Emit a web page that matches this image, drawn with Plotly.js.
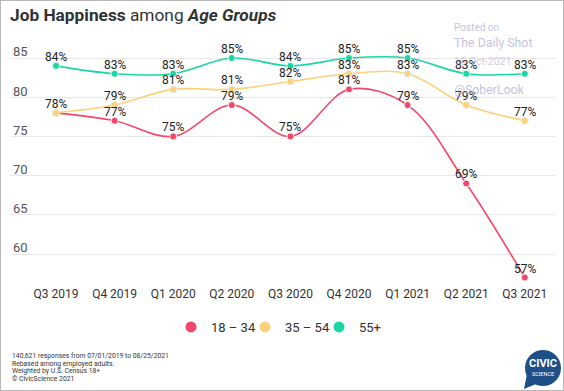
<!DOCTYPE html>
<html>
<head>
<meta charset="utf-8">
<script src="https://cdn.plot.ly/plotly-3.0.1.min.js"></script>
<style>
  html, body { margin: 0; padding: 0; background: #fff; }
  #wrap { position: relative; width: 564px; height: 391px; }
  #chart { width: 564px; height: 391px; }
  #border { position: absolute; left: 0; top: 0; width: 564px; height: 391px; box-sizing: border-box; border: 1px solid #b8b8b8; pointer-events: none; }
</style>
</head>
<body>
<div id="wrap"><div id="chart"></div><div id="border"></div></div>
<script>
const quarters = ["Q3 2019","Q4 2019","Q1 2020","Q2 2020","Q3 2020","Q4 2020","Q1 2021","Q2 2021","Q3 2021"];
const age18_34 = [78,77,75,79,75,81,79,69,57];
const age35_54 = [78,79,81,81,82,83,83,79,77];
const age55plus = [84,83,83,85,84,85,85,83,83];
const seriesNames = ["18 – 34","35 – 54","55+"];
const seriesColors = ["#f2476b","#fdd17b","#1dd5a3"];
const yTicks = [60,65,70,75,80,85];
const footLines = ["140,621 responses from 07/01/2019 to 08/25/2021","Rebased among employed adults.","Weighted by U.S. Census 18+","© CivicScience 2021"];

const W = 564, H = 391;
const M = {l: 10, r: 9, t: 40, b: 106};
const PW = W - M.l - M.r, PH = H - M.t - M.b;
const px = v => (v - M.l) / PW;
const py = v => (H - M.b - v) / PH;

const allSeries = [age18_34, age35_54, age55plus];
const traces = allSeries.map((vals, i) => ({
  type: 'scatter', mode: 'lines+markers',
  x: quarters, y: vals,
  line: {color: seriesColors[i], width: 1.6, shape: 'spline', smoothing: 1},
  marker: {color: seriesColors[i], size: 7, line: {color: '#dff3ee', width: 1}},
  showlegend: false, hoverinfo: 'skip', cliponaxis: false
}));
seriesNames.forEach((n, i) => traces.push({
  type: 'scatter', mode: 'markers', x: [null], y: [null], name: n,
  marker: {color: seriesColors[i], size: 11}, showlegend: true
}));

// data labels (hide a label if a later series has the same value at the same point)
const labelAnns = [];
allSeries.forEach((vals, i) => {
  vals.forEach((v, j) => {
    const dup = allSeries.some((other, k) => k > i && other[j] === v);
    if (dup) return;
    labelAnns.push({
      xref: 'x', yref: 'y', x: quarters[j], y: v, yshift: 9, showarrow: false,
      xanchor: 'center', yanchor: 'middle', text: v + '%',
      font: {family: 'Roboto', size: 12, color: '#222'}
    });
  });
});

const wm = 'rgba(170,170,210,0.72)';
const logoColor = '#1f4f88';
const footAnns = footLines.map((t, i) => ({
  xref: 'paper', yref: 'paper', x: px(10), y: py(356 + i * 7.7), xanchor: 'left', yanchor: 'middle',
  showarrow: false, text: t, font: {family: 'Roboto', size: 6.8, color: '#333'}
}));

const layout = {
  width: W, height: H,
  margin: M,
  paper_bgcolor: '#fff', plot_bgcolor: '#fff',
  font: {family: 'Roboto', color: '#333'},
  title: {
    text: '<b>Job Happiness</b> among <b><i>Age Groups</i></b>',
    font: {family: 'Roboto', size: 17.3, color: '#333'},
    xref: 'container', yref: 'container', x: 10 / W, xanchor: 'left', y: 1 - 15 / H, yanchor: 'middle'
  },
  xaxis: {
    type: 'category', range: [-0.785, 8.515],
    showgrid: false, zeroline: false, showline: false, ticks: '',
    tickfont: {family: 'Roboto', size: 12, color: '#333'}, fixedrange: true
  },
  yaxis: {
    range: [56.05, 87.3], tickvals: yTicks, ticktext: yTicks.map(String),
    showgrid: true, gridcolor: '#e8e8e8', gridwidth: 1, zeroline: false, showline: false, ticks: '',
    ticklabelposition: 'inside top', ticklabelshift: 3,
    tickfont: {family: 'Roboto', size: 13, color: '#555'}, fixedrange: true
  },
  legend: {
    orientation: 'h', x: px(282), xanchor: 'center', y: py(327), yanchor: 'middle',
    font: {family: 'Roboto', size: 13, color: '#333'}, itemwidth: 30, entrywidth: 29, tracegroupgap: 0
  },
  shapes: [
    {type: 'circle', xref: 'paper', yref: 'paper', x0: px(525), x1: px(561), y0: py(386), y1: py(350),
     fillcolor: logoColor, line: {width: 0}},
    {type: 'path', xref: 'paper', yref: 'paper',
     path: `M ${px(527)} ${py(374)} L ${px(524)} ${py(389)} L ${px(536)} ${py(384)} Z`,
     fillcolor: logoColor, line: {width: 0}}
  ],
  annotations: labelAnns.concat(footAnns, [
    {xref: 'paper', yref: 'paper', x: px(452), y: py(27), xanchor: 'left', yanchor: 'middle', showarrow: false,
     text: 'Posted on', font: {family: 'Roboto', size: 10, color: wm}},
    {xref: 'paper', yref: 'paper', x: px(452), y: py(43), xanchor: 'left', yanchor: 'middle', showarrow: false,
     text: 'The Daily Shot', font: {family: 'Roboto', size: 12.3, color: wm}},
    {xref: 'paper', yref: 'paper', x: px(452), y: py(61), xanchor: 'left', yanchor: 'middle', showarrow: false,
     text: '15-Oct-2021', font: {family: 'Roboto', size: 10.5, color: 'rgba(170,170,210,0.6)'}},
    {xref: 'paper', yref: 'paper', x: px(452), y: py(90), xanchor: 'left', yanchor: 'middle', showarrow: false,
     text: '@SoberLook', font: {family: 'Roboto', size: 12.3, color: wm}},
    {xref: 'paper', yref: 'paper', x: px(543), y: py(364), xanchor: 'center', yanchor: 'middle', showarrow: false,
     text: '<b>CIVIC</b>', font: {family: 'Roboto', size: 11, color: '#fff'}},
    {xref: 'paper', yref: 'paper', x: px(543), y: py(374), xanchor: 'center', yanchor: 'middle', showarrow: false,
     text: 'SCIENCE', font: {family: 'Roboto', size: 5.5, color: '#fff'}}
  ])
};

Plotly.newPlot('chart', traces, layout, {displayModeBar: false, staticPlot: true});
</script>
</body>
</html>
